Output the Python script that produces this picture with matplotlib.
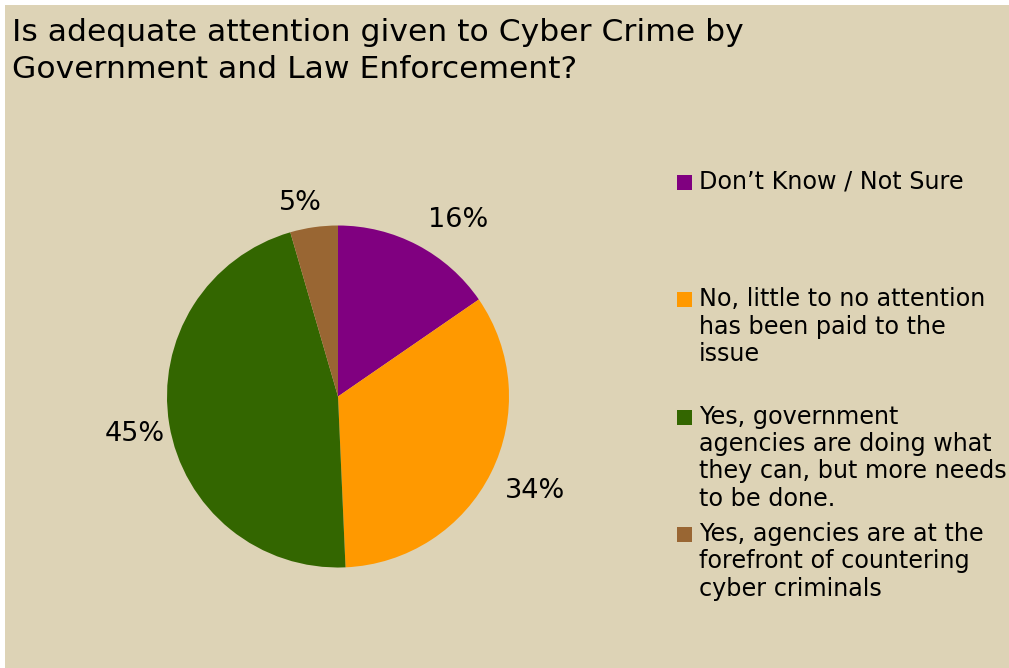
import matplotlib.pyplot as plt
from matplotlib.patches import Rectangle

W, H = 1009, 668

title = "Is adequate attention given to Cyber Crime by\nGovernment and Law Enforcement?"
categories = [
    "Don\u2019t Know / Not Sure",
    "No, little to no attention\nhas been paid to the\nissue",
    "Yes, government\nagencies are doing what\nthey can, but more needs\nto be done.",
    "Yes, agencies are at the\nforefront of countering\ncyber criminals",
]
# wedge sizes as drawn, and the percentage labels as printed on the chart
shares = [15.4, 33.9, 46.2, 4.5]
pct_labels = ["16%", "34%", "45%", "5%"]
colors = ["#800080", "#FF9900", "#336600", "#996633"]
bg = "#DDD3B6"

# label placement (pie radius units), matched to the original layout
label_pos = [(0.70, 1.03), (1.15, -0.55), (-1.19, -0.22), (-0.22, 1.13)]

fig = plt.figure(figsize=(W / 100, H / 100), dpi=100)
fig.patch.set_facecolor("white")
fig.patches.append(Rectangle((5 / W, 0), 1 - 5 / W, 1 - 5 / H,
                             transform=fig.transFigure, facecolor=bg,
                             edgecolor="none", zorder=-10))

fig.text(12 / W, 1 - 18 / H, title, fontsize=22.6, va="top", ha="left",
         linespacing=1.33, color="black")

# pie axes, centre (338, 396.5) px, radius 171 px
cx, cy, r = 338, 396.5, 171
ax = fig.add_axes([(cx - r) / W, (H - cy - r) / H, 2 * r / W, 2 * r / H])
ax.set_facecolor("none")
wedges, texts = ax.pie(shares, colors=colors, startangle=90, counterclock=False,
                       wedgeprops=dict(linewidth=0))
for lab, (x, y) in zip(pct_labels, label_pos):
    ax.text(x, y, lab, fontsize=19.5, ha="center", va="center", color="black")
ax.set_xlim(-1, 1)
ax.set_ylim(-1, 1)
ax.set_aspect("equal")
ax.axis("off")

# legend, drawn by hand so each entry starts at a fixed step
y0, step = 174, 117.3
for i, (lab, col) in enumerate(zip(categories, colors)):
    y = y0 + i * step
    fig.patches.append(Rectangle((677 / W, 1 - (y + 16) / H), 15 / W, 15 / H,
                                 transform=fig.transFigure, facecolor=col,
                                 edgecolor="none"))
    fig.text(699 / W, 1 - (y - 4) / H, lab, fontsize=17.2, va="top", ha="left",
             linespacing=1.18, color="black")

fig.savefig("out.png", dpi=100, facecolor=fig.get_facecolor())
